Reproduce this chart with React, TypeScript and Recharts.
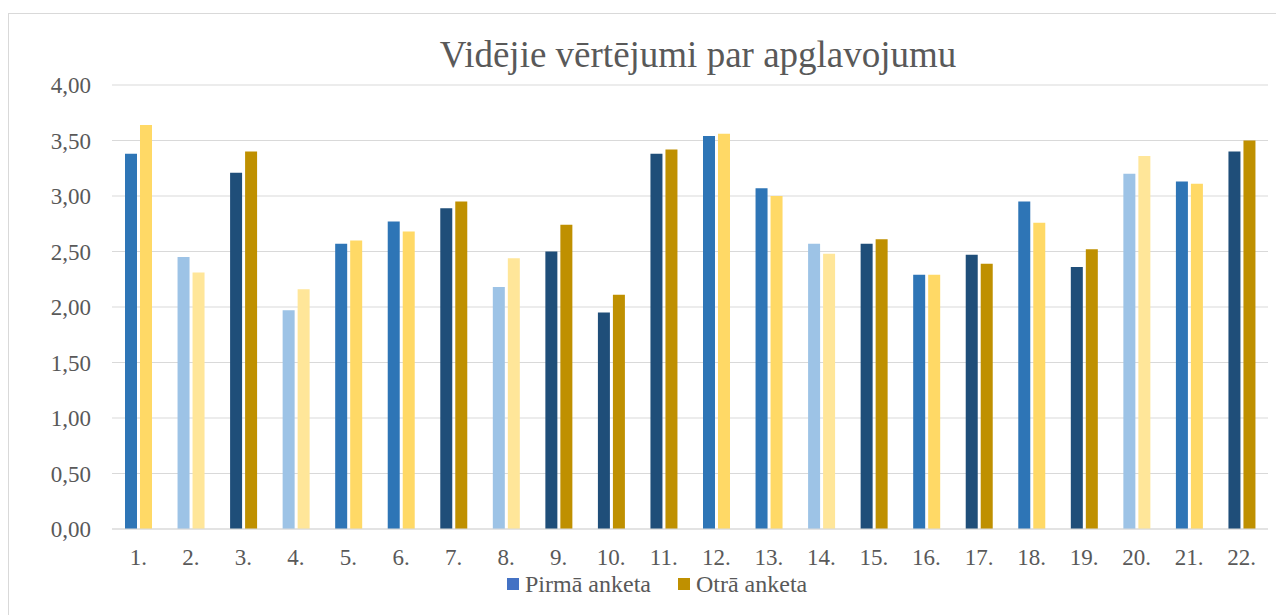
import React from 'react';
import { BarChart, Bar, XAxis, YAxis, CartesianGrid, Cell } from 'recharts';

// question numbers on the x axis
const categories = ['1.', '2.', '3.', '4.', '5.', '6.', '7.', '8.', '9.', '10.', '11.', '12.', '13.', '14.', '15.', '16.', '17.', '18.', '19.', '20.', '21.', '22.'];
const firstSurvey = [3.38, 2.45, 3.21, 1.97, 2.57, 2.77, 2.89, 2.18, 2.5, 1.95, 3.38, 3.54, 3.07, 2.57, 2.57, 2.29, 2.47, 2.95, 2.36, 3.2, 3.13, 3.4];
const secondSurvey = [3.64, 2.31, 3.4, 2.16, 2.6, 2.68, 2.95, 2.44, 2.74, 2.11, 3.42, 3.56, 3.0, 2.48, 2.61, 2.29, 2.39, 2.76, 2.52, 3.36, 3.11, 3.5];
// shade group of each question: 'mid' | 'light' | 'dark'
const tones = ['mid', 'light', 'dark', 'light', 'mid', 'mid', 'dark', 'light', 'dark', 'dark', 'dark', 'mid', 'mid', 'light', 'dark', 'mid', 'dark', 'mid', 'dark', 'light', 'mid', 'dark'];
const yTicks = [0, 0.5, 1, 1.5, 2, 2.5, 3, 3.5, 4];

const blueShades: Record<string, string> = { mid: '#2E75B6', light: '#9DC3E6', dark: '#1F4E79' };
const goldShades: Record<string, string> = { mid: '#FFD966', light: '#FFE699', dark: '#BF9000' };

const data = categories.map((name, i) => ({
  name,
  first: firstSurvey[i],
  second: secondSurvey[i],
  tone: tones[i],
}));

const FONT = '"Liberation Serif", "Times New Roman", serif';
const TEXT = '#595959';

const LegendItem = ({ color, label }: { color: string; label: string }) => (
  <div style={{ display: 'flex', alignItems: 'center', marginRight: 27 }}>
    <div style={{ width: 12, height: 12, background: color, marginRight: 6 }} />
    <span>{label}</span>
  </div>
);

export default function App() {
  return (
    <div
      style={{
        position: 'relative',
        marginTop: 5,
        width: 1275,
        height: 601,
        borderTop: '1px solid #D9D9D9',
        borderLeft: '1px solid #D9D9D9',
        fontFamily: FONT,
        color: TEXT,
      }}
    >
      <div
        style={{
          position: 'absolute',
          left: 289,
          top: 22,
          width: 800,
          textAlign: 'center',
          fontSize: 37,
          lineHeight: '37px',
          whiteSpace: 'nowrap',
        }}
      >
        Vidējie vērtējumi par apglavojumu
      </div>
      <BarChart
        width={1275}
        height={601}
        data={data}
        margin={{ top: 71, right: 16, left: 0, bottom: 56 }}
        barSize={12}
        barGap={3}
      >
        <CartesianGrid vertical={false} stroke="#D9D9D9" strokeWidth={1.2} />
        <XAxis
          dataKey="name"
          height={30}
          axisLine={{ stroke: '#D9D9D9', strokeWidth: 1.2 }}
          tickLine={false}
          tickSize={0}
          tickMargin={20}
          interval={0}
          tick={{ fill: TEXT, fontSize: 23, fontFamily: FONT }}
        />
        <YAxis
          width={103}
          domain={[0, 4]}
          ticks={yTicks}
          axisLine={false}
          tickLine={false}
          tickSize={0}
          tickMargin={21}
          tickFormatter={(v: number) => v.toFixed(2).replace('.', ',')}
          tick={{ fill: TEXT, fontSize: 23, fontFamily: FONT }}
        />
        <Bar dataKey="first" name="Pirmā anketa" fill="#4472C4" isAnimationActive={false}>
          {data.map((d, i) => (
            <Cell key={`f-${i}`} fill={blueShades[d.tone]} />
          ))}
        </Bar>
        <Bar dataKey="second" name="Otrā anketa" fill="#BF9000" isAnimationActive={false}>
          {data.map((d, i) => (
            <Cell key={`s-${i}`} fill={goldShades[d.tone]} />
          ))}
        </Bar>
      </BarChart>
      <div
        style={{
          position: 'absolute',
          left: 498,
          top: 557,
          display: 'flex',
          fontSize: 24,
          lineHeight: '26px',
          whiteSpace: 'nowrap',
        }}
      >
        <LegendItem color="#4472C4" label="Pirmā anketa" />
        <LegendItem color="#BF9000" label="Otrā anketa" />
      </div>
    </div>
  );
}
